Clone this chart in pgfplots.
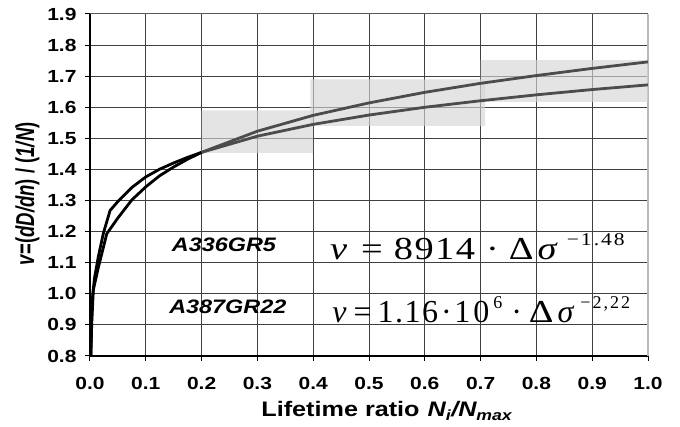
\documentclass[border=0pt]{standalone}
\usepackage{fontspec}
\setmainfont{Liberation Sans}[FakeStretch=1.2]
\newfontfamily\plainsans{Liberation Sans}
\newfontfamily\eqfont{Liberation Serif}[FakeStretch=1.2]
\newfontfamily\eqfontn{Liberation Serif}
\usepackage{graphicx}
\usepackage{pgfplots}
\pgfplotsset{compat=1.18}

% curve data
\pgfplotstableread{
x y
0.0016 0.80
0.003 0.90
0.006 1.013
0.015 1.085
0.03 1.193
0.05 1.244
0.075 1.302
0.1 1.344
0.125 1.380
0.15 1.408
0.175 1.433
0.2 1.455
}\curveAlow
\pgfplotstableread{
x y
0.2 1.455
0.3 1.523
0.4 1.574
0.5 1.614
0.6 1.648
0.7 1.677
0.8 1.702
0.9 1.725
1.0 1.746
}\curveAhigh
\pgfplotstableread{
x y
0.0016 0.80
0.0025 0.90
0.004 0.98
0.008 1.05
0.015 1.12
0.024 1.195
0.036 1.268
0.05 1.297
0.075 1.342
0.1 1.376
0.125 1.401
0.15 1.421
0.175 1.439
0.2 1.455
}\curveBlow
\pgfplotstableread{
x y
0.2 1.455
0.3 1.507
0.4 1.545
0.5 1.575
0.6 1.600
0.7 1.621
0.8 1.640
0.9 1.657
1.0 1.672
}\curveBhigh

\begin{document}
\begin{tikzpicture}
\begin{axis}[
  scale only axis,
  width=558pt, height=342pt,
  xmin=0, xmax=1, ymin=0.8, ymax=1.9,
  xtick={0,0.1,0.2,0.3,0.4,0.5,0.6,0.7,0.8,0.9},
  extra x ticks={1},
  extra x tick style={major grid style={gray!55, line width=1.5pt}},
  ytick={0.8,0.9,1.0,1.1,1.2,1.3,1.4,1.5,1.6,1.7,1.8},
  extra y ticks={1.9},
  extra y tick style={major grid style={gray!70!black, line width=1pt}},
  grid=major,
  major grid style={black!75, line width=0.9pt},
  axis lines*=left,
  axis line style={black, line width=2.2pt, -},
  tick align=outside,
  tick pos=left,
  major tick length=5pt,
  tick style={black, line width=1pt},
  /pgf/number format/fixed,
  /pgf/number format/fixed zerofill,
  /pgf/number format/precision=1,
  /pgf/number format/assume math mode=true,
  ticklabel style={font=\fontsize{17.5}{18}\selectfont\bfseries},
  xticklabel style={yshift=-13pt},
  yticklabel style={xshift=-5pt},
  xlabel={\fontsize{21}{22}\selectfont\bfseries Lifetime ratio\hspace{8pt}\textit{N\textsubscript{i}/N\textsubscript{max}}},
  xlabel style={at={(axis description cs:0.532,-0.161)}, anchor=center},
  ylabel={\scalebox{1}[1.4]{\plainsans\fontsize{18.5}{19}\selectfont\bfseries\textit{v}=(\textit{dD/dn}) / (\textit{1/N})}},
  ylabel style={at={(axis description cs:-0.112,0.474)}, anchor=center},
]
% shaded bands
\addplot[draw=none, fill=black!17, fill opacity=0.64] coordinates {(0.2,1.453) (0.4,1.453) (0.4,1.59) (0.2,1.59) (0.2,1.453)};
\addplot[draw=none, fill=black!17, fill opacity=0.64] coordinates {(0.395,1.54) (0.708,1.54) (0.708,1.69) (0.395,1.69) (0.395,1.54)};
\addplot[draw=none, fill=black!17, fill opacity=0.64] coordinates {(0.7,1.617) (1.0,1.617) (1.0,1.752) (0.7,1.752) (0.7,1.617)};

% curves
\addplot[black, line width=2.8pt] table {\curveAlow};
\addplot[black, line width=2.8pt] table {\curveBlow};
\addplot[black!70, line width=2.8pt] table {\curveAhigh};
\addplot[black!70, line width=2.8pt] table {\curveBhigh};

\node[font=\fontsize{19.5}{20}\selectfont\bfseries\itshape] at (axis cs:0.24,1.157) {A336GR5};
\node[font=\fontsize{19.5}{20}\selectfont\bfseries\itshape] at (axis cs:0.247,0.958) {A387GR22};

\node[anchor=base west, inner sep=0pt, font=\eqfont\fontsize{32}{32}\selectfont] at (axis cs:0.43,1.109)
  {\textit{v}\hspace{14pt}=\hspace{11pt}8\hspace{1.5pt}9\hspace{1.5pt}1\hspace{1.5pt}4\hspace{11pt}·\hspace{10pt}Δ\hspace{4pt}\textit{σ}\hspace{9pt}\raisebox{14pt}{\fontsize{18}{18}\selectfont −\hspace{2pt}1\hspace{2pt}.\hspace{2pt}4\hspace{2pt}8}};
\node[anchor=base west, inner sep=0pt, font=\eqfontn\fontsize{32}{32}\selectfont] at (axis cs:0.434,0.909)
  {\textit{v}\hspace{7pt}=\hspace{6pt}1\hspace{1.5pt}.\hspace{1.5pt}1\hspace{1.5pt}6\hspace{3pt}·\hspace{2.5pt}1\hspace{3pt}0\hspace{4pt}\raisebox{14pt}{\fontsize{18}{18}\selectfont 6}\hspace{9pt}·\hspace{7pt}\scalebox{1.2}[1]{Δ}\hspace{4pt}\textit{σ}\hspace{6pt}\raisebox{14pt}{\fontsize{18}{18}\selectfont −\hspace{2pt}2\hspace{2pt},\hspace{2pt}2\hspace{2pt}2}};

\coordinate (sw) at (rel axis cs:0,0);
\coordinate (ne) at (rel axis cs:1,1);
\end{axis}
\pgfresetboundingbox
\path ([shift={(-90pt,-71pt)}]sw) rectangle ([shift={(32pt,14pt)}]ne);
\end{tikzpicture}
\end{document}
